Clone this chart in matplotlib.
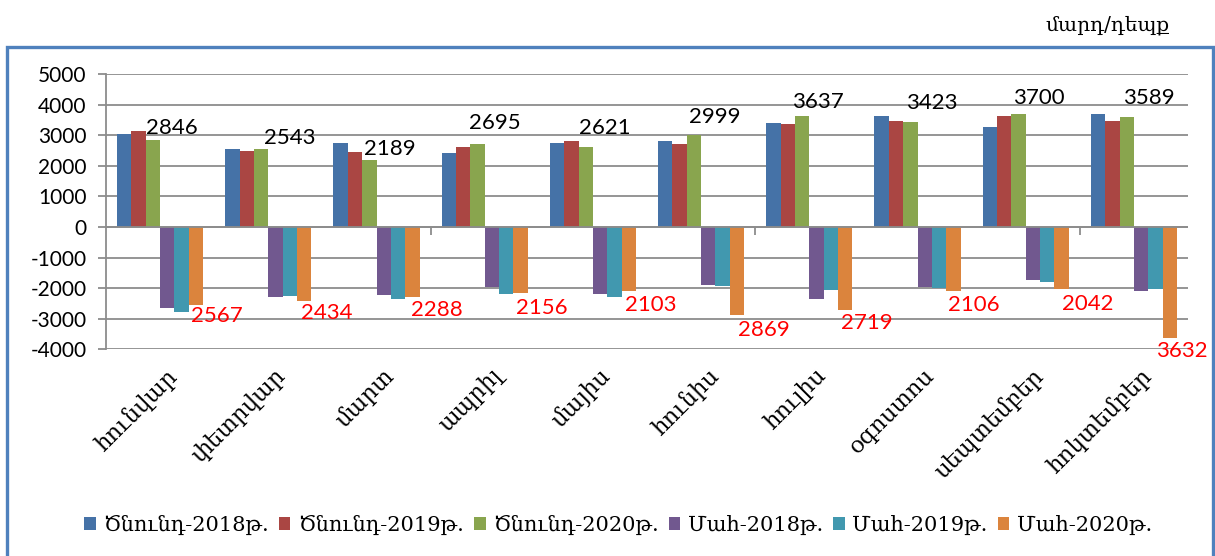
import matplotlib
matplotlib.use("Agg")
import matplotlib.pyplot as plt
import matplotlib.transforms as mtransforms
import numpy as np
from matplotlib.patches import Rectangle, Patch

# ---- data ----
months = ['հունվար', 'փետրվար', 'մարտ', 'ապրիլ', 'մայիս',
          'հունիս', 'հուլիս', 'օգոստոս', 'սեպտեմբեր', 'հոկտեմբեր']
births_2018 = [3032, 2541, 2726, 2399, 2748, 2821, 3385, 3637, 3264, 3692]
births_2019 = [3119, 2486, 2454, 2595, 2792, 2702, 3352, 3450, 3626, 3462]
births_2020 = [2846, 2543, 2189, 2695, 2621, 2999, 3637, 3423, 3700, 3589]
deaths_2018 = [2639, 2279, 2214, 1974, 2203, 1895, 2353, 1972, 1721, 2092]
deaths_2019 = [2781, 2246, 2356, 2192, 2288, 1928, 2070, 1993, 1808, 2026]
deaths_2020 = [2567, 2434, 2288, 2156, 2103, 2869, 2719, 2106, 2042, 3632]
series_names = ['Ծնունդ-2018թ.', 'Ծնունդ-2019թ.', 'Ծնունդ-2020թ.',
                'Մահ-2018թ.', 'Մահ-2019թ.', 'Մահ-2020թ.']
yticks = [5000, 4000, 3000, 2000, 1000, 0, -1000, -2000, -3000, -4000]
unit_label = 'մարդ/դեպք'

# ---- style ----
colors = ['#4572A7', '#AA4643', '#89A54E', '#71588F', '#4198AF', '#DB843D']
arm_font = ['DejaVu Serif', 'DejaVu Sans']
num_font = ['Lato', 'DejaVu Sans']
grid_col = '#8C8C8C'
# label offsets in pixels (dx right, dy away from bar end)
black_off = [(19, 12), (29, 11), (21, 11), (17, 21), (19, 19),
             (21, 18), (16, 14), (21, 19), (20, 16), (22, 19)]
red_off = [(21, 11), (22, 12), (24, 13), (21, 15), (22, 14),
           (27, 15), (22, 13), (20, 14), (26, 15), (12, 13)]

W, H = 1215, 556
fig = plt.figure(figsize=(W / 100, H / 100), dpi=100)
ax = fig.add_axes([106 / W, 1 - 349.3 / H, (1188 - 106) / W, (349.3 - 73.9) / H])

x = np.arange(len(months))
bw = 0.133
values = [births_2018, births_2019, births_2020,
          [-v for v in deaths_2018], [-v for v in deaths_2019], [-v for v in deaths_2020]]
bars = []
for k, (vals, c, name) in enumerate(zip(values, colors, series_names)):
    b = ax.bar(x + (k - 2.5) * bw, vals, width=bw, color=c, label=name,
               edgecolor='none', zorder=3)
    bars.append(b)

# data labels
for i, rect in enumerate(bars[2]):
    cx = rect.get_x() + rect.get_width() / 2
    top = rect.get_height()
    dx, dy = black_off[i]
    ax.annotate(f'{births_2020[i]}', (cx, top), xytext=(dx, dy),
                textcoords='offset pixels', ha='center', va='center',
                fontsize=16, family=num_font, color='black', zorder=5,
                annotation_clip=False)
for i, rect in enumerate(bars[5]):
    cx = rect.get_x() + rect.get_width() / 2
    bot = rect.get_height()
    dx, dy = red_off[i]
    ax.annotate(f'{deaths_2020[i]}', (cx, bot), xytext=(dx, -dy),
                textcoords='offset pixels', ha='center', va='center',
                fontsize=16, family=num_font, color='red', zorder=5,
                annotation_clip=False)

ax.set_xlim(-0.5, len(months) - 0.5)
ax.set_ylim(-4000, 5000)
ax.set_yticks(yticks)
ax.set_yticklabels([str(t) for t in yticks], family=num_font, fontsize=15)
ax.yaxis.grid(True, color=grid_col, linewidth=1.3, zorder=0)
ax.set_axisbelow(True)
ax.axhline(0, color=grid_col, linewidth=1.3, zorder=4)
for s in ['top', 'right', 'bottom']:
    ax.spines[s].set_visible(False)
ax.spines['left'].set_color(grid_col)
ax.spines['left'].set_linewidth(1.3)
ax.tick_params(axis='y', length=6, color=grid_col, width=1.3, pad=8)

ax.set_xticks(x)
ax.set_xticklabels(months, rotation=45, ha='right', va='top',
                   rotation_mode='anchor', family=arm_font, fontsize=16.5)
ax.tick_params(axis='x', length=0, pad=11)
shift = mtransforms.ScaledTranslation(6 / 100, 0, fig.dpi_scale_trans)
for lbl in ax.get_xticklabels():
    lbl.set_transform(lbl.get_transform() + shift)

# small category ticks on the zero line
sec = ax.secondary_xaxis(4000 / 9000)
sec.set_xticks([2.5, 5.5, 8.5])
sec.tick_params(length=6, color=grid_col, width=1.3, labelbottom=False)
sec.spines['bottom'].set_visible(False)

# legend
handles = [Patch(facecolor=c, label=n) for c, n in zip(colors, series_names)]
fig.legend(handles=handles, loc='center', bbox_to_anchor=(618 / W, 1 - 525 / H),
           ncol=6, frameon=False, prop={'family': arm_font, 'size': 15},
           handlelength=0.55, handleheight=0.55, handletextpad=0.35,
           columnspacing=0.5)

# unit text
fig.text(1170 / W, 1 - 25 / H, unit_label, ha='right', va='center',
         family=arm_font, fontsize=14.5)

# outer frame
fig.patches.append(Rectangle((7 / W, -0.05), (1213 - 7) / W, 1.05 - 46.5 / H,
                             transform=fig.transFigure, fill=False,
                             edgecolor='#4F81BD', linewidth=2.4, clip_on=False))

fig.savefig('out.png', dpi=100)
